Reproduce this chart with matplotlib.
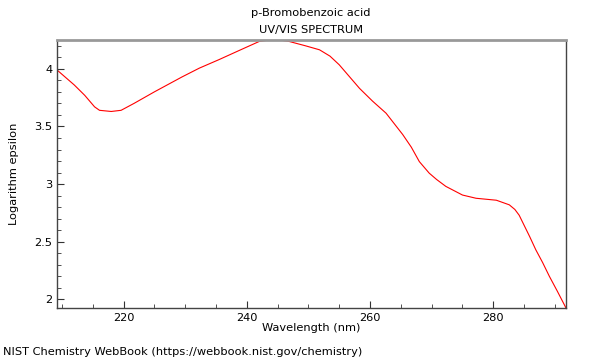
import matplotlib
matplotlib.use("Agg")
import matplotlib.pyplot as plt
from matplotlib.ticker import MultipleLocator

wavelength = [209.2, 212.0, 213.7, 215.3, 216.1, 218.0, 219.6, 221.7, 225.0, 229.5,
              232.3, 235.5, 238.8, 242.0, 243.6, 245.3, 246.9, 249.5, 251.8, 253.5,
              255.0, 258.3, 260.4, 262.6, 265.3, 266.7, 268.0, 269.6, 270.8, 272.3,
              275.0, 277.2, 280.5, 282.6, 283.5, 284.2, 285.9, 286.9, 288.0, 289.1,
              290.4, 291.8]
log_eps = [3.99, 3.86, 3.77, 3.67, 3.64, 3.63, 3.64, 3.70, 3.80, 3.93,
           4.006, 4.08, 4.16, 4.237, 4.250, 4.25, 4.237, 4.20, 4.165, 4.11,
           4.035, 3.83, 3.72, 3.615, 3.43, 3.32, 3.195, 3.095, 3.04, 2.98,
           2.905, 2.877, 2.86, 2.82, 2.78, 2.73, 2.545, 2.43, 2.32, 2.20,
           2.07, 1.925]

title_lines = ["p-Bromobenzoic acid", "UV/VIS SPECTRUM"]
xlabel = "Wavelength (nm)"
ylabel = "Logarithm epsilon"
footer = "NIST Chemistry WebBook (https://webbook.nist.gov/chemistry)"

fs = 8.2
fig = plt.figure(figsize=(6, 3.6), dpi=100)
ax = fig.add_axes([57/600, 52/360, 509/600, 268/360])
ax.plot(wavelength, log_eps, color="#ff0000", lw=0.8)
ax.set_xlim(min(wavelength), max(wavelength))
ax.set_ylim(min(log_eps), max(log_eps))

ax.xaxis.set_major_locator(MultipleLocator(20))
ax.xaxis.set_minor_locator(MultipleLocator(5))
ax.yaxis.set_major_locator(MultipleLocator(0.5))
ax.yaxis.set_minor_locator(MultipleLocator(0.1))
ax.yaxis.set_major_formatter(matplotlib.ticker.FuncFormatter(lambda v, p: f"{v:g}"))
ax.tick_params(which="both", direction="in", labelsize=fs, color="#333333")
ax.tick_params(which="major", length=5)
ax.tick_params(which="minor", length=3)

for s in ["left", "bottom", "right"]:
    ax.spines[s].set_color("#444444")
    ax.spines[s].set_linewidth(1)
ax.spines["top"].set_color("#999999")
ax.spines["top"].set_linewidth(2)

ax.set_xlabel(xlabel, fontsize=fs, labelpad=0)
ax.set_ylabel(ylabel, fontsize=fs, labelpad=11)
fig.text(311/600, 1 - 13/360, title_lines[0], ha="center", va="center", fontsize=fs)
fig.text(311/600, 1 - 30/360, title_lines[1], ha="center", va="center", fontsize=fs)
fig.text(3/600, 1 - 352/360, footer, ha="left", va="center", fontsize=fs)

fig.savefig("out.png", dpi=100)
